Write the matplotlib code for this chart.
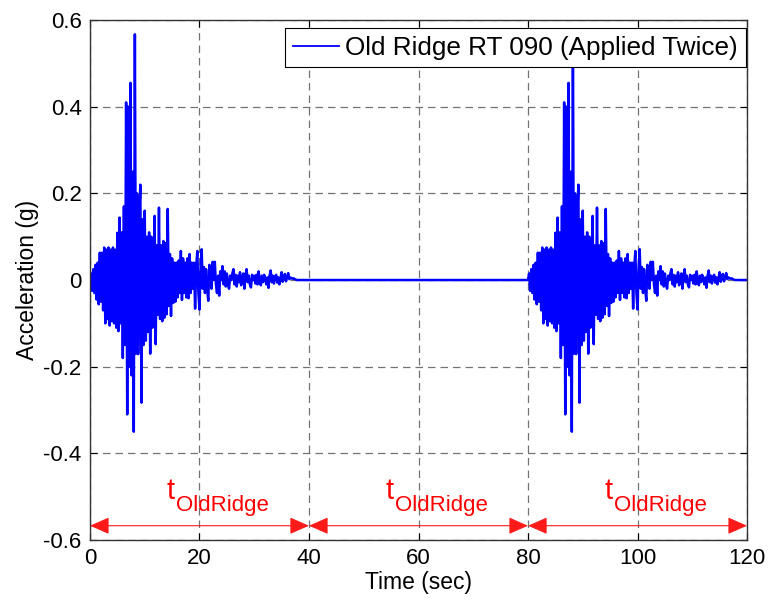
import numpy as np
import matplotlib
matplotlib.use("Agg")
import matplotlib.pyplot as plt

plt.rcParams['font.family'] = ['Liberation Sans', 'DejaVu Sans']

### DATA ###
dt = 0.2          # sec, sampling of the digitised record
rec_dur = 40.0    # sec, length of one application (record + quiet tail)
gap_dur = 40.0    # sec, zero gap between the two applications

# Old Ridge RT 090 ground acceleration [g], every 0.2 s
acc_record = [
    0.000, 0.015, -0.025, 0.025, -0.030,     # 0 s
    0.035, -0.045, 0.040, -0.056, 0.063,     # 1 s
    -0.050, 0.063, -0.070, 0.075, -0.100,    # 2 s
    0.070, -0.090, 0.075, -0.105, 0.070,     # 3 s
    -0.095, 0.075, -0.100, 0.070, -0.110,    # 4 s
    0.109, -0.118, 0.144, -0.100, 0.110,     # 5 s
    -0.180, 0.170, -0.150, 0.410, -0.310,    # 6 s
    0.400, -0.200, 0.455, -0.220, 0.250,     # 7 s
    -0.350, 0.567, -0.170, 0.200, -0.171,    # 8 s
    0.150, 0.220, -0.283, 0.140, -0.150,     # 9 s
    0.160, -0.140, 0.100, -0.120, 0.110,     # 10 s
    -0.170, 0.100, -0.110, -0.100, 0.148,    # 11 s
    -0.148, 0.080, -0.080, 0.167, -0.090,    # 12 s
    0.080, -0.095, 0.090, -0.087, 0.085,     # 13 s
    -0.079, 0.164, -0.060, 0.060, -0.083,    # 14 s
    0.050, -0.053, 0.040, -0.050, 0.040,     # 15 s
    -0.040, 0.045, -0.030, 0.067, -0.046,    # 16 s
    0.050, -0.030, 0.040, -0.040, 0.050,     # 17 s
    -0.042, 0.060, -0.030, 0.040, -0.020,    # 18 s
    0.040, -0.066, 0.030, 0.067, -0.030,     # 19 s
    -0.068, 0.030, 0.071, -0.020, 0.030,     # 20 s
    -0.030, 0.025, -0.020, -0.048, 0.035,    # 21 s
    0.020, -0.020, 0.042, 0.000, 0.042,      # 22 s
    -0.010, -0.030, 0.010, -0.036, 0.020,    # 23 s
    0.000, 0.032, -0.010, 0.020, -0.015,     # 24 s
    0.015, -0.010, -0.020, 0.010, 0.000,     # 25 s
    0.015, 0.025, -0.010, 0.012, -0.015,     # 26 s
    0.010, -0.005, 0.018, -0.012, 0.005,     # 27 s
    0.015, -0.020, 0.010, 0.025, -0.005,     # 28 s
    0.010, -0.010, -0.017, 0.012, 0.000,     # 29 s
    0.010, -0.008, 0.012, -0.010, 0.020,     # 30 s
    0.000, -0.012, 0.010, -0.005, 0.012,     # 31 s
    0.005, -0.010, 0.006, -0.018, 0.010,     # 32 s
    0.022, -0.005, 0.010, -0.008, 0.008,     # 33 s
    0.012, -0.006, 0.006, -0.010, 0.005,     # 34 s
    0.018, -0.004, 0.008, 0.014, -0.003,     # 35 s
    0.006, 0.016, 0.002, 0.006, 0.004,       # 36 s
    0.003, 0.004, 0.002, 0.001, 0.000,       # 37 s
]

xticks = [0, 20, 40, 60, 80, 100, 120]
yticks = [-0.6, -0.4, -0.2, 0, 0.2, 0.4, 0.6]
ytick_labels = ["-0.6", "-0.4", "-0.2", "0", "0.2", "0.4", "0.6"]
arrow_spans = [(0, 40), (40, 80), (80, 120)]
arrow_level = -0.567

### BUILD SERIES ###
rec = np.array(acc_record)
rec = np.pad(rec, (0, int(round(rec_dur / dt)) - len(rec)))     # quiet tail to 40 s
gap = np.zeros(int(round(gap_dur / dt)))
acc = np.concatenate([rec, gap, rec])
time = np.arange(len(acc)) * dt

### PLOTTING ###
fig = plt.figure(figsize=(7.73, 6.05), dpi=100)
ax = fig.add_axes([0.1164, 0.1074, 0.85, 0.8595])

ax.plot(time, acc, "-", color=(0, 0, 1), linewidth=1.8, label="Old Ridge RT 090 (Applied Twice)")

for (a, b) in arrow_spans:
    ax.annotate("", xy=(a, arrow_level), xytext=(b, arrow_level),
                arrowprops=dict(arrowstyle="<|-|>,head_length=0.8,head_width=0.35",
                                mutation_scale=15, color=(1, 0.1, 0.1), lw=0.8,
                                shrinkA=0, shrinkB=0))
    # "t" with a large, low subscript (MATLAB tex style)
    ax.text(a + 13.9, -0.505, "t", color="red", fontsize=21, ha="left", va="baseline")
    ax.annotate("OldRidge", xy=(a + 13.9, -0.505), xytext=(9.5, -12),
                textcoords="offset pixels", color="red", fontsize=16,
                ha="left", va="baseline")

ax.set_xlim(0, 120)
ax.set_ylim(-0.6, 0.6)
ax.set_xticks(xticks)
ax.set_yticks(yticks)
ax.set_yticklabels(ytick_labels)
ax.tick_params(direction="in", top=True, right=True, labelsize=16, length=5, pad=6)
ax.grid(True, color=(0.45, 0.45, 0.45), linestyle=(0, (6, 4)), linewidth=0.9)
for s in ax.spines.values():
    s.set_color((0.2, 0.2, 0.2))
    s.set_linewidth(1.0)

ax.set_xlabel("Time (sec)", fontsize=16.5, labelpad=1)
ax.set_ylabel("Acceleration (g)", fontsize=16.5, labelpad=3)

leg = ax.legend(loc="upper right", bbox_to_anchor=(0.998, 0.985), fontsize=18.8,
                fancybox=False, framealpha=1, edgecolor="black", borderpad=0.3,
                handlelength=1.75, handletextpad=0.25, borderaxespad=0)
leg.get_frame().set_linewidth(0.8)
leg.get_lines()[0].set_linewidth(1.3)

plt.savefig("out.png", dpi=100)
